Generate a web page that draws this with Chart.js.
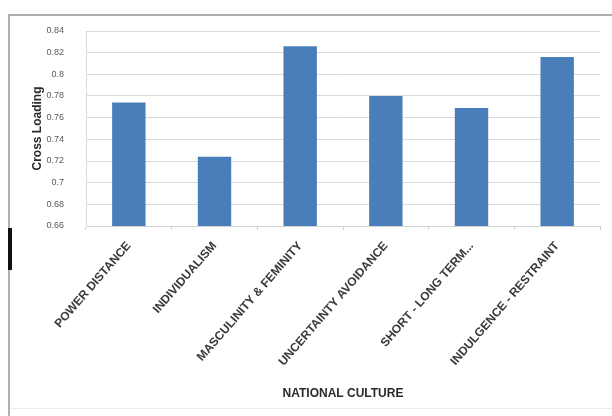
<!DOCTYPE html>
<html>
<head>
<meta charset="utf-8">
<script src="https://cdn.jsdelivr.net/npm/chart.js@4.4.1/dist/chart.umd.min.js"></script>
<style>
  html, body { margin: 0; padding: 0; background: #ffffff; }
  #wrap { position: relative; width: 612px; height: 416px; }
  canvas { display: block; }
</style>
</head>
<body>
<div id="wrap"><canvas id="chart" width="612" height="416"></canvas></div>
<script>
// Cross loading per national culture dimension
const categories = [
  "POWER DISTANCE",
  "INDIVIDUALISM",
  "MASCULINITY & FEMINITY",
  "UNCERTAINTY AVOIDANCE",
  "SHORT - LONG TERM...",
  "INDULGENCE - RESTRAINT"
];
const crossLoading = [0.774, 0.724, 0.826, 0.780, 0.769, 0.816];
const yTicks = [0.66, 0.68, 0.70, 0.72, 0.74, 0.76, 0.78, 0.80, 0.82, 0.84];

// Frame around the chart plus the small dark marker on its left edge
const framePlugin = {
  id: 'frame',
  beforeDraw(chart) {
    const ctx = chart.ctx;
    ctx.save();
    ctx.fillStyle = '#ffffff';
    ctx.fillRect(0, 0, chart.width, chart.height);
    ctx.strokeStyle = '#b0b0b0';
    ctx.lineWidth = 2;
    ctx.beginPath();
    ctx.moveTo(9, 416);
    ctx.lineTo(9, 15);
    ctx.lineTo(612, 15);
    ctx.stroke();
    ctx.strokeStyle = '#ececec';
    ctx.lineWidth = 1;
    ctx.beginPath();
    ctx.moveTo(10, 408.5);
    ctx.lineTo(612, 408.5);
    ctx.stroke();
    ctx.fillStyle = '#111111';
    ctx.fillRect(8, 228, 4, 42);
    ctx.restore();
  }
};

new Chart(document.getElementById('chart'), {
  type: 'bar',
  data: {
    labels: categories,
    datasets: [{
      label: 'Cross Loading',
      data: crossLoading,
      backgroundColor: '#4a7ebb',
      borderWidth: 0,
      categoryPercentage: 1.0,
      barPercentage: 0.39
    }]
  },
  options: {
    responsive: false,
    animation: false,
    layout: { padding: { top: 31, left: 28, right: 12, bottom: 11 } },
    plugins: {
      legend: { display: false },
      tooltip: { enabled: false }
    },
    scales: {
      x: {
        offset: true,
        grid: {
          offset: true,
          drawOnChartArea: false,
          drawTicks: true,
          tickLength: 4,
          color: '#d0d0d0'
        },
        border: { display: true, color: '#d0d0d0' },
        ticks: {
          autoSkip: false,
          minRotation: 49,
          maxRotation: 49,
          color: '#3a3a3a',
          font: { family: 'Liberation Sans', size: 12, weight: 'bold' },
          padding: 9
        },
        title: {
          display: true,
          text: 'NATIONAL CULTURE',
          color: '#2a2a2a',
          font: { family: 'Liberation Sans', size: 12, weight: 'bold' },
          padding: { top: 4, bottom: 4 }
        },
        afterFit(scale) { scale.height = 179; }
      },
      y: {
        min: 0.66,
        max: 0.84,
        afterBuildTicks(scale) { scale.ticks = yTicks.map(v => ({ value: v })); },
        grid: { color: '#d9d9d9', drawTicks: false },
        border: { display: true, color: '#d9d9d9' },
        ticks: {
          color: '#595959',
          padding: 22,
          font: { family: 'Liberation Sans', size: 9 },
          callback: (v) => String(parseFloat(v.toFixed(2)))
        },
        title: {
          display: true,
          text: 'Cross Loading',
          color: '#2a2a2a',
          font: { family: 'Liberation Sans', size: 12, weight: 'bold' },
          padding: { top: 2, bottom: 2 }
        },
        afterFit(scale) { scale.width = 58; }
      }
    }
  },
  plugins: [framePlugin]
});
</script>
</body>
</html>
